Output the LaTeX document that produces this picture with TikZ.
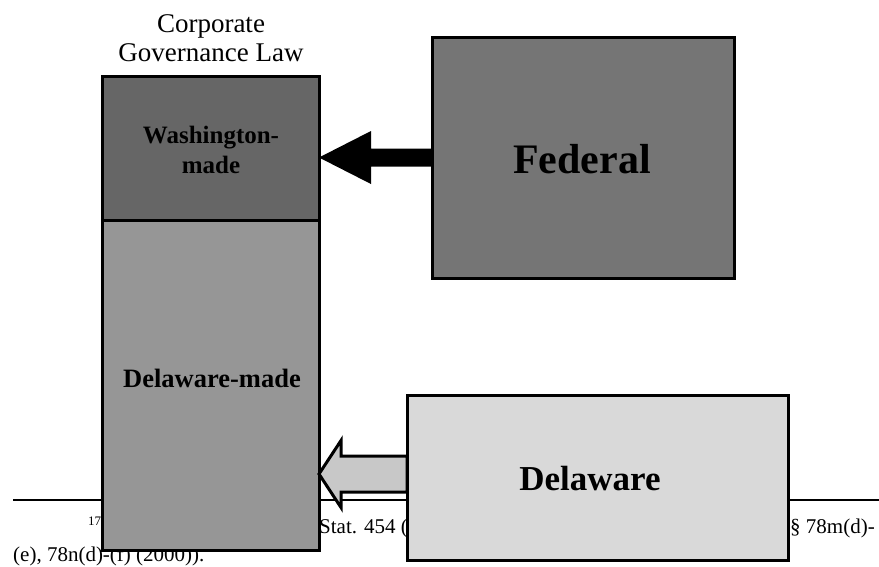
\documentclass[tikz,border=0pt]{standalone}
\usepackage{fontspec}
\setmainfont{Liberation Serif}
\usetikzlibrary{calc}
\definecolor{wgray}{HTML}{666666}
\definecolor{dgray}{HTML}{969696}
\definecolor{fgray}{HTML}{757575}
\definecolor{lgray}{HTML}{D9D9D9}
\definecolor{agray}{HTML}{C8C8C8}
\begin{document}
\begin{tikzpicture}[x=1pt,y=-1pt,
  box/.style={draw=black,line width=3pt,inner sep=0pt,outer sep=0pt,anchor=north west},
  lbl/.style={anchor=base,inner sep=0pt},
  fn/.style={font=\fontsize{21}{24}\selectfont,anchor=base west,inner sep=0pt}]
\useasboundingbox (0,0) rectangle (879,566);
% footnote rule and text (behind the boxes)
\coordinate (rl) at (13,500);
\coordinate (rr) at (879,500);
\draw[line width=2pt] (rl) -- (rr);
\node[font=\fontsize{13}{14}\selectfont,anchor=base west,inner sep=0pt] (fnum) at (88,525) {17};
\node[fn] (f1) at (319,533) {Stat. 454 (};
\node[fn] (f2) at (790,533) {\S\ 78m(d)-};
\node[fn] (f3) at (13,561) {(e), 78n(d)-(f) (2000)).};
% title
\node[lbl,font=\fontsize{27}{30}\selectfont] (t1) at (211,32) {Corporate};
\node[lbl,font=\fontsize{27}{30}\selectfont] (t2) at (211,61) {Governance Law};
% left column
\node[box,fill=dgray,minimum width=217pt,minimum height=330pt] (dmade) at (102,220) {};
\node[box,fill=wgray,minimum width=217pt,minimum height=144pt] (wash) at (102,76) {};
\node[lbl,font=\fontsize{25}{30}\selectfont\bfseries] (w1) at (211,143) {Washington-};
\node[lbl,font=\fontsize{25}{30}\selectfont\bfseries] (w2) at (211,173) {made};
\node[lbl,font=\fontsize{26.5}{30}\selectfont\bfseries] (dm) at (212,387) {Delaware-made};
% Federal box
\node[box,fill=fgray,minimum width=302pt,minimum height=241pt] (fed) at (432,37) {};
\node[lbl,font=\fontsize{42}{46}\selectfont\bfseries] (fedl) at (582,173) {Federal};
% black arrow
\coordinate (bt) at (wash.east |- fed.west);
\fill[black] (bt) -- ($(bt)+(52,-26.5)$) -- ($(bt)+(52,-9)$) -- ($(fed.west)+(0,-9)$)
  -- ($(fed.west)+(0,9)$) -- ($(bt)+(52,9)$) -- ($(bt)+(52,26.5)$) -- cycle;
% gray arrow (drawn before the Delaware box)
\coordinate (dl) at (407,474);
\coordinate (gt) at (dmade.east |- dl);
\filldraw[fill=agray,draw=black,line width=3pt,line join=miter]
  (gt) -- ($(gt)+(22,-33.5)$) -- ($(gt)+(22,-18)$) -- ($(dl)+(0,-18)$)
  -- ($(dl)+(0,18)$) -- ($(gt)+(22,18)$) -- ($(gt)+(22,33.5)$) -- cycle;
% Delaware box
\node[box,fill=lgray,minimum width=381pt,minimum height=165pt] (del) at (407,395) {};
\node[lbl,font=\fontsize{35}{40}\selectfont\bfseries] (dell) at (590,490) {Delaware};
\end{tikzpicture}
\end{document}
